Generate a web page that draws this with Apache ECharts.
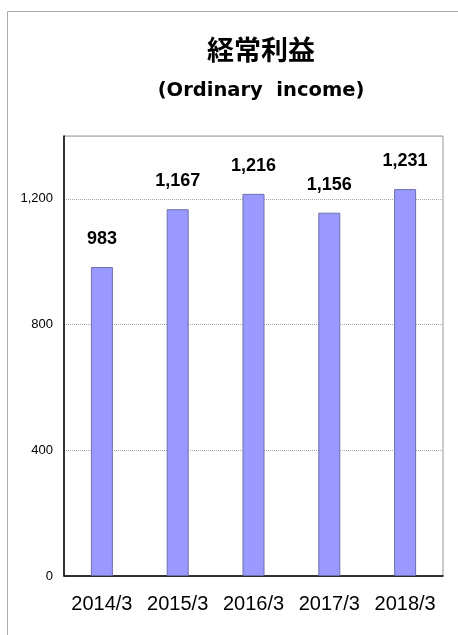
<!DOCTYPE html>
<html><head><meta charset="utf-8">
<script src="https://cdn.jsdelivr.net/npm/echarts@6/dist/echarts.min.js"></script>
<style>html,body{margin:0;padding:0;background:#fff}#c{width:458px;height:635px}</style>
</head><body><div id="c"></div>
<script>
const categories = ['2014/3','2015/3','2016/3','2017/3','2018/3'];
const values = [983, 1167, 1216, 1156, 1231];
const titleText = '経常利益';
const subtitleText = '(Ordinary  income)';

const chart = echarts.init(document.getElementById('c'), null, {renderer:'canvas'});
const fontCJK = '"Noto Sans CJK JP", "DejaVu Sans", sans-serif';
const fontSub = '"DejaVu Sans", "Noto Sans CJK JP", sans-serif';
const fontLat = '"Liberation Sans", Arial, sans-serif';
chart.setOption({
  animation: false,
  backgroundColor: '#fff',
  title: [
    {text: titleText, left: 256, textAlign: 'center', top: 31, textStyle:{fontFamily: fontCJK, fontWeight:'bold', fontSize: 27, color:'#000'}},
    {text: subtitleText, left: 256, textAlign: 'center', top: 76,
     textStyle:{fontFamily: fontSub, fontWeight:'bold', fontSize: 19.5, color:'#000'}}
  ],
  graphic: [
    {type:'line', shape:{x1:7.5,y1:11.5,x2:458,y2:11.5}, style:{stroke:'#aaa', lineWidth:1}},
    {type:'line', shape:{x1:7.5,y1:11.5,x2:7.5,y2:635}, style:{stroke:'#aaa', lineWidth:1}}
  ],
  grid: {left: 64, right: 15, top: 136, bottom: 59, show: true, borderColor:'#999', borderWidth:1},
  xAxis: {
    type: 'category', data: categories,
    axisLine: {lineStyle:{color:'#000', width:1.5}},
    axisTick: {show:false},
    axisLabel: {color:'#000', fontSize:20, margin:18, interval:0, fontFamily: fontLat}
  },
  yAxis: {
    type: 'value', min: 0, max: 1400, interval: 400,
    axisLine: {show:true, lineStyle:{color:'#000', width:1.5}},
    axisTick: {show:false},
    axisLabel: {color:'#000', fontSize:13, margin:11, showMaxLabel:false,
      formatter: v => v >= 1400 ? '' : v.toLocaleString('en-US'),
      fontFamily: fontLat},
    splitLine: {show:true, lineStyle:{color:'#aaa', width:1, type:[1,1]}}
  },
  series: [{
    type: 'bar', data: values, barWidth: 22,
    itemStyle: {color:'#9999FF', borderColor:'#6f6fb0', borderWidth:1},
    label: {show:true, position:'top', distance: 19, color:'#000', fontSize:18, fontWeight:'bold',
      fontFamily: fontLat,
      formatter: p => p.value.toLocaleString('en-US')}
  }]
});
</script></body></html>
